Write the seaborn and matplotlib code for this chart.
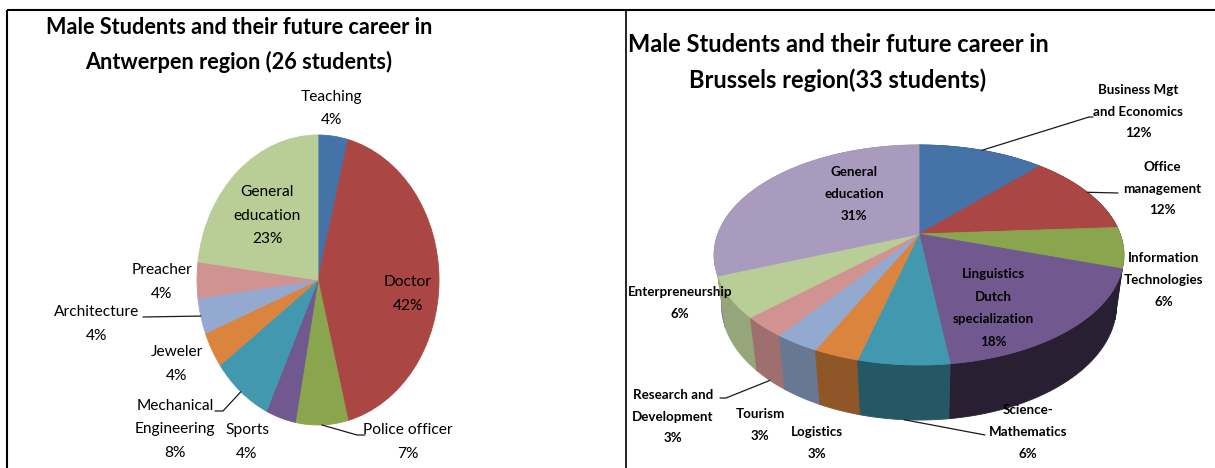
import numpy as np
import matplotlib
matplotlib.use("Agg")
import matplotlib.pyplot as plt
import seaborn as sns

# ------------------------------------------------------------------ data
antwerp_title = "Male Students and their future career in\nAntwerpen region (26 students)"
antwerp_careers = ["Teaching", "Doctor", "Police officer", "Sports",
                   "Mechanical\nEngineering", "Jeweler", "Architecture",
                   "Preacher", "General\neducation"]
antwerp_pct = [4, 42, 7, 4, 8, 4, 4, 4, 23]

brussels_title = "Male Students and their future career in\nBrussels region(33 students)"
brussels_careers = ["Business Mgt\nand Economics", "Office\nmanagement",
                    "Information\nTechnologies", "Linguistics\nDutch\nspecialization",
                    "Science-\nMathematics", "Logistics", "Tourism",
                    "Research and\nDevelopment", "Enterpreneurship", "General\neducation"]
brussels_pct = [12, 12, 6, 18, 6, 3, 3, 3, 6, 31]

# ------------------------------------------------------------------ styles / layout
excel_colors = ["#4572A7", "#AA4643", "#89A54E", "#71588F", "#4198AF",
                "#DB843D", "#93A9CF", "#D19392", "#B9CD96", "#A99BBD"]

sns.set_theme(style="white")
plt.rcParams['font.family'] = ['Lato', 'DejaVu Sans']

W, H = 1215, 468
fig = plt.figure(figsize=(W / 100, H / 100), dpi=100)
fig.patch.set_facecolor("white")

# left pie geometry (pixels)
L_CX, L_CY, L_RX, L_RY = 318, 280, 121, 145
# right 3D pie perspective parameters
R_CX, R_CY = 919, 234
F_, D_, ELEV, DEPTH = 895.0, 4.45, np.radians(31.8), 0.299
SE, CE = np.sin(ELEV), np.cos(ELEV)

# label layout: (x, y of first line, line step) in pixels
left_label_pos = [(332, 97, 23.5), (408, 282, 23.5), (408, 430, 23.5), (247, 430, 23.5),
                  (175, 406, 23.5), (177, 352, 23.5), (97, 312, 23.5), (162, 270, 23.5),
                  (267, 192, 23.5)]
right_label_pos = [(1138, 90, 21.7), (1162, 167, 21.7), (1164, 258, 22), (993, 274, 22.6),
                   (1028, 410, 22), (817, 432, 21.5), (760, 414, 21.5), (673, 395, 21.7),
                   (680, 292, 22), (854, 172, 22)]
# leader lines: slice index -> elbow points (label side first); slice end computed from geometry
left_leaders = {2: [(365, 435), (357, 435)], 4: [(215, 411), (223, 411)], 6: [(143, 317)]}
right_leaders = {0: [(1093, 117), (1089, 117)], 1: [(1118, 193)],
                 4: [(985, 435)], 7: [(720, 398), (726, 398)]}

# overlay canvas in pixel coordinates (y downwards)
canvas = fig.add_axes([0, 0, 1, 1], zorder=5)
canvas.set_xlim(0, W)
canvas.set_ylim(H, 0)
canvas.axis('off')

renderer = fig.canvas.get_renderer()


def fit_size(text, target_px, weight, base=12.0):
    t = canvas.text(0, 0, text, fontsize=base, fontweight=weight)
    w = t.get_window_extent(renderer).width
    t.remove()
    return base * target_px / w


title_l_size = fit_size(antwerp_title.split("\n")[0], 384, "bold")
title_r_size = fit_size(brussels_title.split("\n")[0], 418, "bold")
lab_l_size = fit_size("Architecture", 85, "normal")
lab_r_size = fit_size("Enterpreneurship", 104, "bold")


def put_lines(x, y, step, text, size, weight, color="black"):
    for i, line in enumerate(text.split("\n")):
        canvas.text(x, y + i * step, line, ha="center", va="center",
                    fontsize=size, fontweight=weight, color=color)


# ------------------------------------------------------------------ left pie (flat, elliptical)
axL = fig.add_axes([(L_CX - L_RX) / W, (H - L_CY - L_RY) / H, 2 * L_RX / W, 2 * L_RY / H])
pal_l = sns.color_palette(excel_colors[:len(antwerp_pct)])
wedges, _ = axL.pie(antwerp_pct, colors=pal_l, startangle=90, counterclock=False,
                    wedgeprops=dict(linewidth=0.6))
for wdg in wedges:
    wdg.set_edgecolor(wdg.get_facecolor())
axL.set_xlim(-1, 1)
axL.set_ylim(-1, 1)
axL.set_aspect('auto')
axL.axis('off')

cum_l = np.cumsum([0] + antwerp_pct)
tot_l = cum_l[-1]
for i, (name, pct) in enumerate(zip(antwerp_careers, antwerp_pct)):
    x, y, step = left_label_pos[i]
    put_lines(x, y, step, f"{name}\n{pct}%", lab_l_size, "normal")
    if i in left_leaders:
        mid = (cum_l[i] + pct / 2) / tot_l * 360
        a = np.radians(90 - mid)
        ex, ey = L_CX + L_RX * np.cos(a), L_CY - L_RY * np.sin(a)
        pts = left_leaders[i] + [(ex, ey)]
        canvas.plot([p[0] for p in pts], [p[1] for p in pts], color="#1a1a1a", lw=0.9)

put_lines(239, 27, 35, antwerp_title, title_l_size, "bold")

# ------------------------------------------------------------------ right pie (3D with perspective)


def project(theta_deg, yw):
    t = np.radians(theta_deg)
    X, Z = np.sin(t), -np.cos(t)
    yc = yw * CE - Z * SE
    w = D_ - yw * SE - Z * CE
    return R_CX + F_ * X / w, R_CY - F_ * yc / w


pal_r = sns.color_palette(excel_colors[:len(brussels_pct)])
cum_r = np.cumsum([0] + brussels_pct)
tot_r = cum_r[-1]
bounds = [(cum_r[i] / tot_r * 360, cum_r[i + 1] / tot_r * 360) for i in range(len(brussels_pct))]

# side walls, back to front
order = sorted(range(len(bounds)), key=lambda i: -np.cos(np.radians(sum(bounds[i]) / 2)))
for i in order:
    a0, a1 = bounds[i]
    th = np.linspace(a0, a1, 60)
    tx, ty = project(th, 0.0)
    bx, by = project(th[::-1], -DEPTH)
    xm = np.sin(np.radians((a0 + a1) / 2))
    f = float(np.clip(0.55 - 0.31 * xm, 0.3, 0.9))
    col = tuple(np.array(pal_r[i]) * f)
    canvas.fill(np.r_[tx, bx], np.r_[ty, by], color=col, lw=0.6, ec=col, zorder=1)

# top face
for i, (a0, a1) in enumerate(bounds):
    th = np.linspace(a0, a1, 80)
    tx, ty = project(th, 0.0)
    canvas.fill(np.r_[R_CX, tx], np.r_[R_CY, ty], color=pal_r[i], lw=0.6,
                ec=pal_r[i], zorder=2)

for i, (name, pct) in enumerate(zip(brussels_careers, brussels_pct)):
    x, y, step = right_label_pos[i]
    put_lines(x, y, step, f"{name}\n{pct}%", lab_r_size, "bold")
    if i in right_leaders:
        mid = sum(bounds[i]) / 2
        front = np.cos(np.radians(mid)) < 0
        ex, ey = project(mid, -DEPTH if front else 0.0)
        pts = right_leaders[i] + [(ex, ey)]
        canvas.plot([p[0] for p in pts], [p[1] for p in pts], color="#1a1a1a", lw=0.9, zorder=3)

put_lines(838, 45, 35, brussels_title, title_r_size, "bold")

# ------------------------------------------------------------------ frame lines
canvas.plot([7, W], [10, 10], color="black", lw=1.5, solid_capstyle="butt")
canvas.plot([7, 7], [10, H], color="black", lw=1.5, solid_capstyle="butt")
canvas.plot([626, 626], [10, H], color="black", lw=1.2, solid_capstyle="butt")

fig.savefig("out.png", dpi=100, facecolor="white")
